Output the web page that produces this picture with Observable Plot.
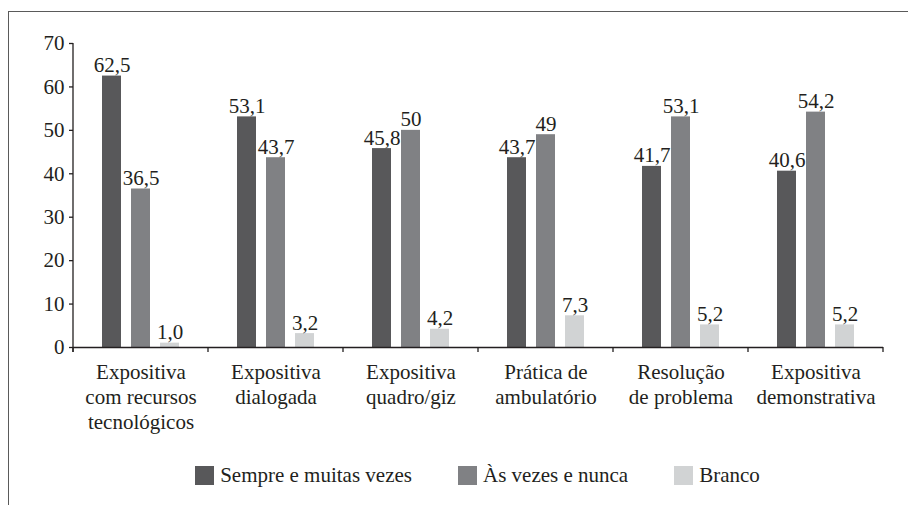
<!DOCTYPE html>
<html><head><meta charset="utf-8">
<script src="https://cdn.jsdelivr.net/npm/d3@7"></script>
<script src="https://cdn.jsdelivr.net/npm/@observablehq/plot@0.6"></script>
<style>
body{margin:0;background:#fff;font-family:"Liberation Serif","Times New Roman",serif;color:#231f20;}
#wrap{position:relative;width:908px;height:505px;overflow:hidden;background:#fff;}
#frame{position:absolute;left:8px;top:11px;width:1000px;height:1000px;border-top:1.5px solid #5a5a5a;border-left:1.5px solid #5a5a5a;}
#chart{position:absolute;left:0;top:0;}
#chart svg text{font-family:"Liberation Serif","Times New Roman",serif;}
#legend{position:absolute;left:70px;top:466px;width:815px;display:flex;justify-content:center;align-items:center;font-size:21px;line-height:19px;color:#231f20;}
.item{display:flex;align-items:center;margin:0 23px;white-space:nowrap;}
.sw{width:19px;height:19px;margin-right:6px;flex:none;}
</style></head><body>
<div id="wrap"><div id="frame"></div><div id="chart"></div><div id="legend"></div></div>
<script>
const categories = ["Expositiva\ncom recursos\ntecnológicos","Expositiva\ndialogada","Expositiva\nquadro/giz","Prática de\nambulatório","Resolução\nde problema","Expositiva\ndemonstrativa"];
const series = ["Sempre e muitas vezes","Às vezes e nunca","Branco"];
const sempre = [62.5,53.1,45.8,43.7,41.7,40.6];
const asVezes = [36.5,43.7,50,49,53.1,54.2];
const branco = [1.0,3.2,4.2,7.3,5.2,5.2];
const sempreLabels = ["62,5","53,1","45,8","43,7","41,7","40,6"];
const asVezesLabels = ["36,5","43,7","50","49","53,1","54,2"];
const brancoLabels = ["1,0","3,2","4,2","7,3","5,2","5,2"];
const yTicks = [0,10,20,30,40,50,60,70];
const colors = ["#58585a","#808184","#d1d3d4"];

const valueSets = [sempre, asVezes, branco];
const labelSets = [sempreLabels, asVezesLabels, brancoLabels];
const data = [];
categories.forEach((c, i) => {
  series.forEach((s, j) => {
    data.push({category: c, series: s, value: valueSets[j][i], label: labelSets[j][i]});
  });
});

const chart = Plot.plot({
  width: 908, height: 455,
  marginLeft: 70, marginRight: 23, marginTop: 43, marginBottom: 108,
  style: {fontSize: "21px", color: "#231f20", background: "transparent"},
  fx: {domain: categories, padding: 0, label: null},
  x: {domain: series, paddingInner: 0.352, paddingOuter: 0.95, axis: null},
  y: {domain: [0, 70], label: null},
  color: {domain: series, range: colors},
  marks: [
    Plot.barY(data, {fx: "category", x: "series", y: "value", fill: "series"}),
    Plot.text(data, {fx: "category", x: "series", y: "value", text: "label", dy: -4, lineAnchor: "bottom", fill: "#231f20", fontSize: 21}),
    Plot.ruleY([0], {stroke: "#231f20", strokeWidth: 1.3}),
    Plot.axisY({ticks: yTicks, tickSize: 4, tickPadding: 5, label: null, fontSize: 21, stroke: "#231f20", strokeWidth: 1.3}),
    Plot.axisFx({anchor: "bottom", tickSize: 0, tickPadding: 14, lineAnchor: "top", label: null, fontSize: 21, lineHeight: 1.19})
  ]
});
document.getElementById("chart").appendChild(chart);

// axis line and category-boundary ticks, positioned with the plot's own scales
const fxS = chart.scale("fx"), yS = chart.scale("y");
const bw = fxS.bandwidth != null ? fxS.bandwidth : (fxS.apply(categories[1]) - fxS.apply(categories[0]));
const bounds = categories.map(c => fxS.apply(c));
bounds.push(bounds[bounds.length - 1] + bw);
const y0 = yS.apply(0), yTop = yS.apply(yTicks[yTicks.length - 1]);
const g = d3.select(chart).append("g").attr("stroke", "#231f20").attr("stroke-width", 1.3).attr("fill", "none");
g.append("line").attr("x1", bounds[0]).attr("x2", bounds[0]).attr("y1", yTop).attr("y2", y0 + 5);
bounds.forEach(x => g.append("line").attr("x1", x).attr("x2", x).attr("y1", y0).attr("y2", y0 + 5));

const legend = document.getElementById("legend");
series.forEach((s, j) => {
  const item = document.createElement("div");
  item.className = "item";
  const sw = document.createElement("div");
  sw.className = "sw";
  sw.style.background = chart.scale("color").apply(s);
  const t = document.createElement("span");
  t.textContent = s;
  item.appendChild(sw); item.appendChild(t);
  legend.appendChild(item);
});
</script>
</body></html>
